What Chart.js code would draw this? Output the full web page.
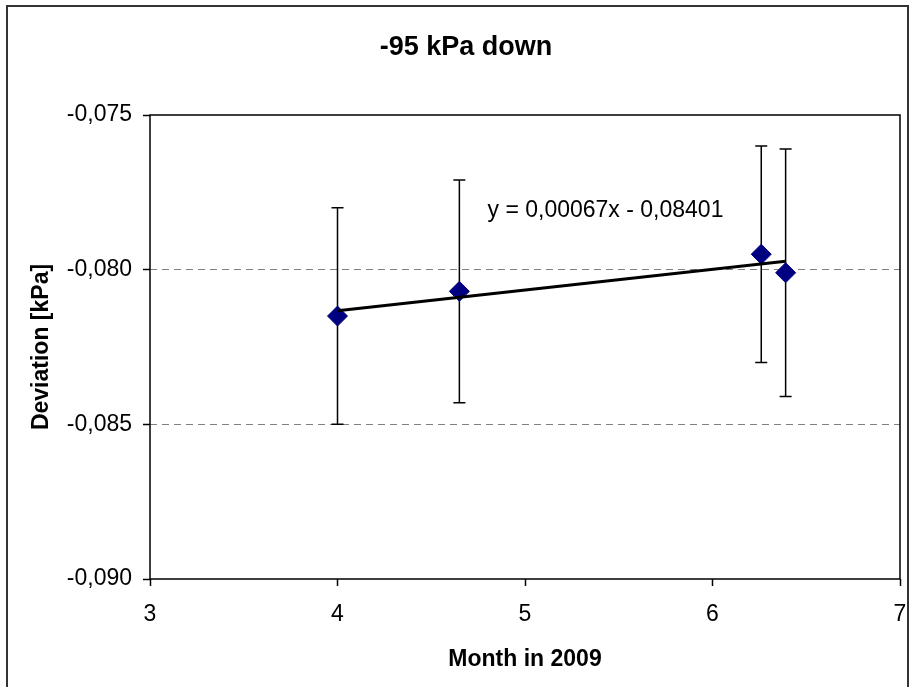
<!DOCTYPE html>
<html lang="en">
<head>
<meta charset="UTF-8">
<title>-95 kPa down</title>
<style>
  html, body { margin: 0; padding: 0; background: #fff; overflow: hidden; }
  #wrap { position: relative; width: 913px; height: 687px; }
  #frame { position: absolute; left: 6px; top: 5px; width: 899px; height: 720px; border: 2px solid #333; }
  #chart { position: absolute; left: 0; top: 0; }
</style>
<script src="https://cdn.jsdelivr.net/npm/chart.js"></script>
</head>
<body>
<div id="wrap">
  <div id="frame"></div>
  <canvas id="chart" width="913" height="687"></canvas>
</div>
<script>
// values
const months    = [4.0, 4.65, 6.26, 6.39];
const deviation = [-0.0815, -0.0807, -0.0795, -0.0801];
const errLow    = [-0.0850, -0.0843, -0.0830, -0.0841];
const errHigh   = [-0.0780, -0.0771, -0.0760, -0.0761];

// linear trend drawn by the original chart
const trendX = [4.0, 6.39];
const trendY = [-0.08133, -0.07973];
const trendLabel = 'y = 0,00067x - 0,08401';
const trendLabelAt = [4.80, -0.0781];

const chartTitle = '-95 kPa down';
const xMin = 3, xMax = 7;
const yMin = -0.090, yMax = -0.075, yStep = 0.005;

const FONT = 'Arial, "Liberation Sans", sans-serif';

const extras = {
  id: 'extras',
  beforeDatasetsDraw(chart) {
    const { ctx, chartArea: a, scales: { x, y } } = chart;
    ctx.save();
    // error bars
    ctx.strokeStyle = '#000';
    ctx.lineWidth = 1.5;
    months.forEach((m, i) => {
      const px = x.getPixelForValue(m);
      const top = y.getPixelForValue(errHigh[i]);
      const bot = y.getPixelForValue(errLow[i]);
      ctx.beginPath();
      ctx.moveTo(px, top); ctx.lineTo(px, bot);
      ctx.moveTo(px - 6, top); ctx.lineTo(px + 6, top);
      ctx.moveTo(px - 6, bot); ctx.lineTo(px + 6, bot);
      ctx.stroke();
    });
    // plot frame
    ctx.strokeRect(a.left, a.top, a.right - a.left, a.bottom - a.top);
    ctx.restore();
  },
  afterDraw(chart) {
    const { ctx, scales: { x, y } } = chart;
    ctx.save();
    ctx.fillStyle = '#000';
    // chart title
    ctx.font = 'bold 27px ' + FONT;
    ctx.textAlign = 'center';
    ctx.textBaseline = 'alphabetic';
    ctx.fillText(chartTitle, 466, 55);
    // trend equation
    ctx.font = '23px ' + FONT;
    ctx.textAlign = 'left';
    ctx.textBaseline = 'middle';
    ctx.fillText(trendLabel, x.getPixelForValue(trendLabelAt[0]), y.getPixelForValue(trendLabelAt[1]));
    ctx.restore();
  }
};

new Chart(document.getElementById('chart'), {
  type: 'scatter',
  data: {
    datasets: [
      {
        label: 'Trend',
        data: trendX.map((v, i) => ({ x: v, y: trendY[i] })),
        showLine: true,
        borderColor: '#000',
        borderWidth: 3,
        pointRadius: 0,
        order: 0
      },
      {
        label: 'Deviation',
        data: months.map((v, i) => ({ x: v, y: deviation[i] })),
        pointStyle: 'rectRot',
        pointRadius: 10,
        backgroundColor: '#000080',
        borderColor: '#000080',
        borderWidth: 1,
        order: 1
      }
    ]
  },
  options: {
    responsive: false,
    animation: false,
    events: [],
    layout: { padding: { left: 0, right: 13, top: 115, bottom: 0 } },
    plugins: {
      legend: { display: false },
      tooltip: { enabled: false },
      title: { display: false }
    },
    scales: {
      x: {
        type: 'linear',
        min: xMin, max: xMax,
        afterFit(s) { s.height = 108; s.paddingLeft = 0; s.paddingRight = 0; },
        border: { display: false },
        grid: { drawOnChartArea: false, tickLength: 7, tickColor: '#000', tickWidth: 1.5 },
        ticks: { stepSize: 1, color: '#000', padding: 15, font: { family: FONT, size: 23 } },
        title: {
          display: true, text: 'Month in 2009', color: '#000',
          font: { family: FONT, size: 23, weight: 'bold' },
          padding: { top: 0, bottom: 14 }
        }
      },
      y: {
        type: 'linear',
        min: yMin, max: yMax,
        afterFit(s) { s.width = 150; s.paddingTop = 0; s.paddingBottom = 0; },
        border: { display: false, dash: [7, 5] },
        grid: {
          color: c => (c.index === 0 || c.index === 3) ? 'rgba(0,0,0,0)' : '#808080',
          lineWidth: 1,
          tickLength: 7,
          tickColor: '#000',
          tickWidth: 1.5,
          tickBorderDash: []
        },
        ticks: {
          stepSize: yStep, color: '#000', padding: 11,
          font: { family: FONT, size: 23 },
          callback: v => v.toFixed(3).replace('.', ',')
        },
        title: {
          display: true, text: 'Deviation [kPa]', color: '#000',
          font: { family: FONT, size: 23, weight: 'bold' },
          padding: { top: 28, bottom: 0 }
        }
      }
    }
  },
  plugins: [extras]
});
</script>
</body>
</html>
